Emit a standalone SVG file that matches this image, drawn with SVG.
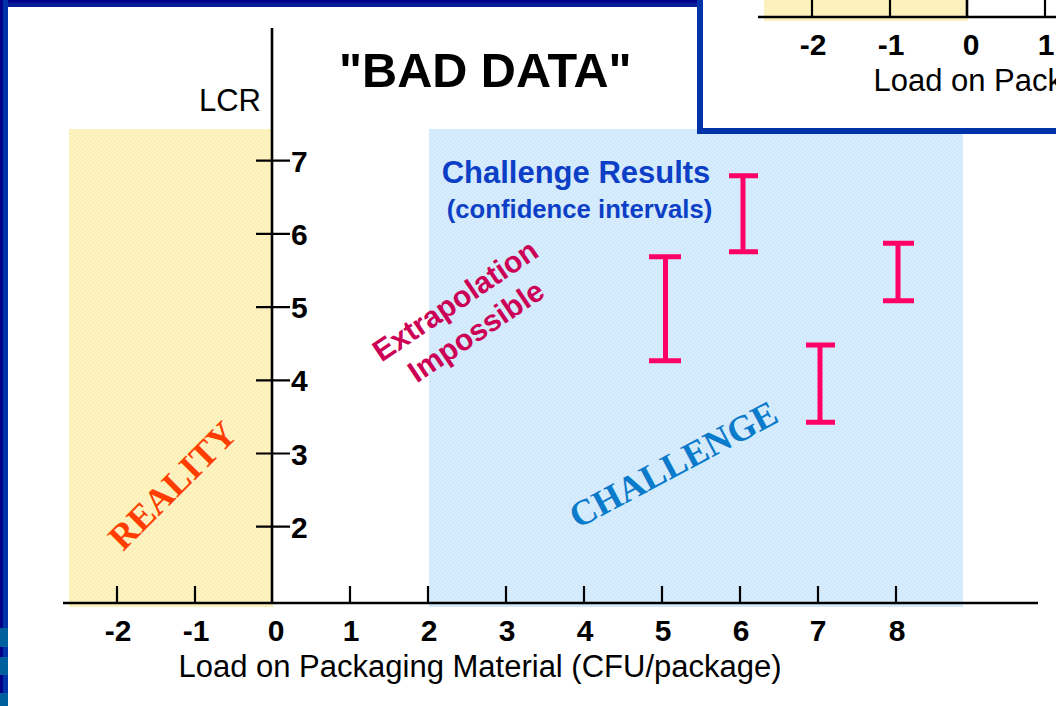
<svg xmlns="http://www.w3.org/2000/svg" width="1056" height="706" viewBox="0 0 1056 706">
<style>
.axis{stroke:#000;stroke-width:2.6;fill:none}
.tick{stroke:#000;stroke-width:2.2;fill:none}
.num{font-family:"Liberation Sans",Arial,sans-serif;font-weight:bold;font-size:30px;fill:#000}
.lbl{font-family:"Liberation Sans",Arial,sans-serif;font-size:31px;fill:#000}
.bar{stroke:#ff0066;stroke-width:5;fill:none}
.yel{fill:url(#hatchY)}
.blu{fill:url(#hatchB)}
</style>
<defs>
<pattern id="hatchY" width="4" height="4" patternUnits="userSpaceOnUse">
<rect width="4" height="4" fill="#fef4c2"/>
<path d="M-1,1 L1,-1 M0,4 L4,0 M3,5 L5,3" stroke="#f7e8a9" stroke-width="0.8"/>
</pattern>
<pattern id="hatchB" width="4" height="4" patternUnits="userSpaceOnUse">
<rect width="4" height="4" fill="#d7edfd"/>
<path d="M-1,1 L1,-1 M0,4 L4,0 M3,5 L5,3" stroke="#c6e2f7" stroke-width="0.8"/>
</pattern>
<clipPath id="insetClip"><rect x="700" y="0" width="360" height="131"/></clipPath>
</defs>

<rect width="1056" height="706" fill="#fff"/>

<g id="frame">
<rect x="0" y="0" width="700" height="7" fill="#0a1c9a"/>
<rect x="0" y="0" width="700" height="2.5" fill="#000088"/>
<rect x="0" y="0" width="8" height="706" fill="#0033aa"/>
<rect x="0" y="0" width="3" height="706" fill="#000088"/>
<rect x="0" y="628" width="8" height="19" fill="#00609e"/>
<rect x="0" y="657" width="8" height="18" fill="#00609e"/>
<rect x="0" y="693" width="8" height="13" fill="#00609e"/>
</g>

<g id="regions">
<rect id="reality-zone" class="yel" x="69" y="129" width="204" height="478"/>
<rect id="challenge-zone" class="blu" x="429" y="129" width="534" height="478"/>
</g>

<g id="axes">
<line class="axis" x1="272" y1="28" x2="272" y2="604"/>
<line class="axis" x1="63" y1="603" x2="1038" y2="603"/>
<path class="tick" d="M256,160.7H290M256,233.9H290M256,307.1H290M256,380.3H290M256,453.5H290M256,526.7H290"/>
<path class="tick" d="M117,586V603M195,586V603M350,586V603M428,586V603M506,586V603M584,586V603M662,586V603M740,586V603M818,586V603M896,586V603"/>
</g>

<g id="y-labels">
<text class="lbl" x="261" y="111" text-anchor="end">LCR</text>
<text class="num" x="291" y="171.7">7</text>
<text class="num" x="291" y="244.9">6</text>
<text class="num" x="291" y="318.1">5</text>
<text class="num" x="291" y="391.3">4</text>
<text class="num" x="291" y="464.5">3</text>
<text class="num" x="291" y="537.7">2</text>
</g>

<g id="x-labels" text-anchor="middle">
<text class="num" x="118" y="641">-2</text>
<text class="num" x="196" y="641">-1</text>
<text class="num" x="276" y="641">0</text>
<text class="num" x="351" y="641">1</text>
<text class="num" x="429" y="641">2</text>
<text class="num" x="507" y="641">3</text>
<text class="num" x="585" y="641">4</text>
<text class="num" x="663" y="641">5</text>
<text class="num" x="741" y="641">6</text>
<text class="num" x="818" y="641">7</text>
<text class="num" x="897" y="641">8</text>
<text class="lbl" x="480" y="677">Load on Packaging Material (CFU/package)</text>
</g>

<g id="title">
<text x="339" y="87" font-family="Liberation Sans, Arial, sans-serif" font-weight="bold" font-size="48.6" fill="#000">"BAD DATA"</text>
</g>

<g id="challenge-results-label" font-family="Liberation Sans, Arial, sans-serif" font-weight="bold" fill="#0d3fc6" text-anchor="middle">
<text x="576" y="183" font-size="31">Challenge Results</text>
<text x="579.5" y="218" font-size="25.7">(confidence intervals)</text>
</g>

<g id="error-bars">
<path class="bar" d="M743,175.7V251.7M729,175.7H758M729,251.7H758"/>
<path class="bar" d="M665.5,256.7V360.7M649,256.7H681M649,360.7H681"/>
<path class="bar" d="M898,243.3V300.7M883,243.3H914M883,300.7H914"/>
<path class="bar" d="M820,345V422.3M806,345H835M806,422.3H835"/>
</g>

<g id="extrapolation-label" transform="translate(461,309) rotate(-34)" font-family="Liberation Sans, Arial, sans-serif" font-weight="bold" font-size="30" fill="#cc0055" text-anchor="middle">
<text x="0" y="0">Extrapolation</text>
<text x="0" y="37">Impossible</text>
</g>

<g id="reality-label">
<text transform="translate(181,494) rotate(-45)" text-anchor="middle" font-family="Liberation Serif, Times New Roman, serif" font-weight="bold" font-size="36" fill="#ff3d00">REALITY</text>
</g>

<g id="challenge-label">
<text transform="translate(679,475) rotate(-28)" text-anchor="middle" font-family="Liberation Serif, Times New Roman, serif" font-weight="bold" font-size="36" fill="#0a7acb">CHALLENGE</text>
</g>

<g id="inset">
<rect x="700" y="-10" width="400" height="141" fill="#fff"/>
<g clip-path="url(#insetClip)">
<g transform="translate(695,-586)">
<rect class="yel" x="69" y="129" width="204" height="478"/>
<line class="axis" x1="272" y1="28" x2="272" y2="604"/>
<line class="axis" x1="63" y1="603" x2="1038" y2="603"/>
<path class="tick" d="M117,586V603M195,586V603M350,586V603M428,586V603"/>
<g text-anchor="middle">
<text class="num" x="118" y="641">-2</text>
<text class="num" x="196" y="641">-1</text>
<text class="num" x="276" y="641">0</text>
<text class="num" x="351" y="641">1</text>
<text class="lbl" x="480" y="677">Load on Packaging Material (CFU/package)</text>
</g>
</g>
</g>
<rect x="700" y="-10" width="400" height="141" fill="none" stroke="#0033aa" stroke-width="6"/>
</g>
</svg>
